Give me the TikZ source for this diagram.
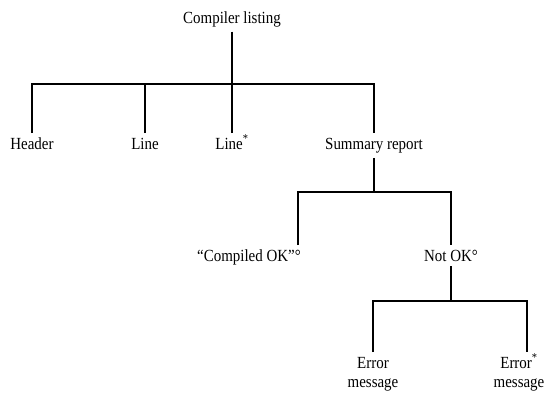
\documentclass[tikz,border=0pt]{standalone}
\usepackage{fontspec}
\setmainfont[FakeStretch=0.88]{Liberation Serif}
\newcommand{\stjerne}{\smash{\textsuperscript{*}}}
\begin{document}
\begin{tikzpicture}[x=1pt, y=-1pt, line width=1.5pt,
          every node/.style = {inner sep=0pt, outer sep=5pt, align=center, font=\fontsize{17}{19.5}\selectfont},
          lbl/.style={anchor=north}]
          \useasboundingbox (0,0) rectangle (553,394);
          % Definer knuder og stregernes knaek
          \node(CL)[anchor=base] at (232, 23) {Compiler listing};
          \coordinate(b1l) at (32, 84);
          \coordinate(b1r) at (374, 84);
          \node(hdr)[lbl] at (32, 133) {Header};
          \node(ln)[lbl] at (145, 133) {Line};
          \node(lns)[lbl] at (232, 133) {Line\stjerne};
          \node(sum)[lbl] at (374, 133) {Summary report};
          \coordinate(b2l) at (298, 192);
          \coordinate(b2r) at (451, 192);
          \node(ok)[lbl] at (249, 245) {``Compiled OK''°};
          \node(nok)[lbl] at (451, 245) {Not OK°};
          \coordinate(b3l) at (373, 301);
          \coordinate(b3r) at (527, 301);
          \node(err)[lbl] at (373, 352) {Error\\message};
          \node(errs)[lbl] at (519, 352) {Error\stjerne\\message};
          % Streger mellem knuderne
          \draw (CL.south) -- (CL.south |- b1l);
          \draw (hdr.north) -- (b1l) -- (b1r) -- (sum.north);
          \draw (ln.north) -- (ln.north |- b1l);
          \draw (lns.north) -- (lns.north |- b1l);
          \draw (sum.south) -- (sum.south |- b2l);
          \draw (ok.north -| b2l) -- (b2l) -- (b2r) -- (nok.north);
          \draw (nok.south) -- (nok.south |- b3l);
          \draw (err.north) -- (b3l) -- (b3r) -- (errs.north -| b3r);
        \end{tikzpicture}
\end{document}
